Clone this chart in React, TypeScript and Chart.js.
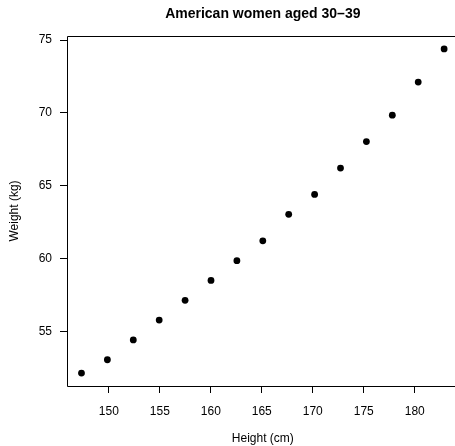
import React, { useEffect, useRef } from "react";
import { Chart, registerables } from "chart.js";

Chart.register(...registerables);

const heightsCm = [147.32, 149.86, 152.4, 154.94, 157.48, 160.02, 162.56, 165.1, 167.64, 170.18, 172.72, 175.26, 177.8, 180.34, 182.88];
const weightsKg = [52.16, 53.07, 54.43, 55.79, 57.15, 58.51, 59.87, 61.23, 63.05, 64.41, 66.22, 68.04, 69.85, 72.12, 74.39];
const xTicks = [150, 155, 160, 165, 170, 175, 180];
const yTicks = [55, 60, 65, 70, 75];
const chartTitle = "American women aged 30–39";
const xLabel = "Height (cm)";
const yLabel = "Weight (kg)";

const FONT = "'Liberation Sans', Arial, Helvetica, sans-serif";

export default function App() {
  const ref = useRef<HTMLCanvasElement | null>(null);

  useEffect(() => {
    if (!ref.current) return;
    const decor = {
      id: "decor",
      afterDraw(chart: any) {
        const { ctx, chartArea } = chart;
        const { left, top, right, bottom } = chartArea;
        ctx.save();
        ctx.strokeStyle = "#000";
        ctx.lineWidth = 1;
        ctx.beginPath();
        const l = Math.round(left) + 0.5;
        const t = Math.round(top) + 0.5;
        const b = Math.round(bottom) + 0.5;
        const r = Math.round(right) + 0.5;
        ctx.moveTo(r, t);
        ctx.lineTo(l, t);
        ctx.lineTo(l, b);
        ctx.lineTo(r, b);
        ctx.stroke();
        ctx.fillStyle = "#000";
        ctx.textAlign = "center";
        ctx.textBaseline = "middle";
        ctx.font = `bold 14px ${FONT}`;
        ctx.fillText(chartTitle, (left + right) / 2, 14);
        ctx.font = `12px ${FONT}`;
        ctx.fillText(xLabel, (left + right) / 2, 439);
        ctx.translate(15, (top + bottom) / 2);
        ctx.rotate(-Math.PI / 2);
        ctx.fillText(yLabel, 0, 0);
        ctx.restore();
      },
    };
    const chart = new Chart(ref.current, {
      type: "scatter",
      data: {
        datasets: [
          {
            data: heightsCm.map((h, i) => ({ x: h, y: weightsKg[i] })),
            backgroundColor: "#000",
            borderColor: "#000",
            pointRadius: 3.4,
            pointHoverRadius: 3.4,
            borderWidth: 0,
          },
        ],
      },
      options: {
        responsive: false,
        animation: false,
        events: [],
        layout: { padding: { top: 36, right: 1.6, left: 0, bottom: 0 } },
        plugins: { legend: { display: false }, tooltip: { enabled: false }, title: { display: false } },
        scales: {
          x: {
            type: "linear",
            min: 145.9,
            max: 184.3,
            afterBuildTicks: (scale: any) => {
              scale.ticks = xTicks.map((v) => ({ value: v }));
            },
            afterFit: (scale: any) => {
              scale.height = 60;
            },
            grid: { drawOnChartArea: false, drawTicks: true, tickLength: 7, color: "#000", lineWidth: 1 },
            border: { display: false },
            ticks: { color: "#000", font: { family: FONT, size: 12 }, padding: 11, maxRotation: 0, autoSkip: false },
          },
          y: {
            type: "linear",
            min: 51.27,
            max: 75.28,
            afterBuildTicks: (scale: any) => {
              scale.ticks = yTicks.map((v) => ({ value: v }));
            },
            afterFit: (scale: any) => {
              scale.width = 67;
            },
            grid: { drawOnChartArea: false, drawTicks: true, tickLength: 7, color: "#000", lineWidth: 1 },
            border: { display: false },
            ticks: { color: "#000", font: { family: FONT, size: 12 }, padding: 8, autoSkip: false },
          },
        },
      },
      plugins: [decor],
    });
    return () => chart.destroy();
  }, []);

  return (
    <div style={{ position: "fixed", left: 0, top: 0, width: 462, height: 446, background: "#fff" }}>
      <canvas ref={ref} width={462} height={446} style={{ display: "block", width: 462, height: 446 }} />
    </div>
  );
}
